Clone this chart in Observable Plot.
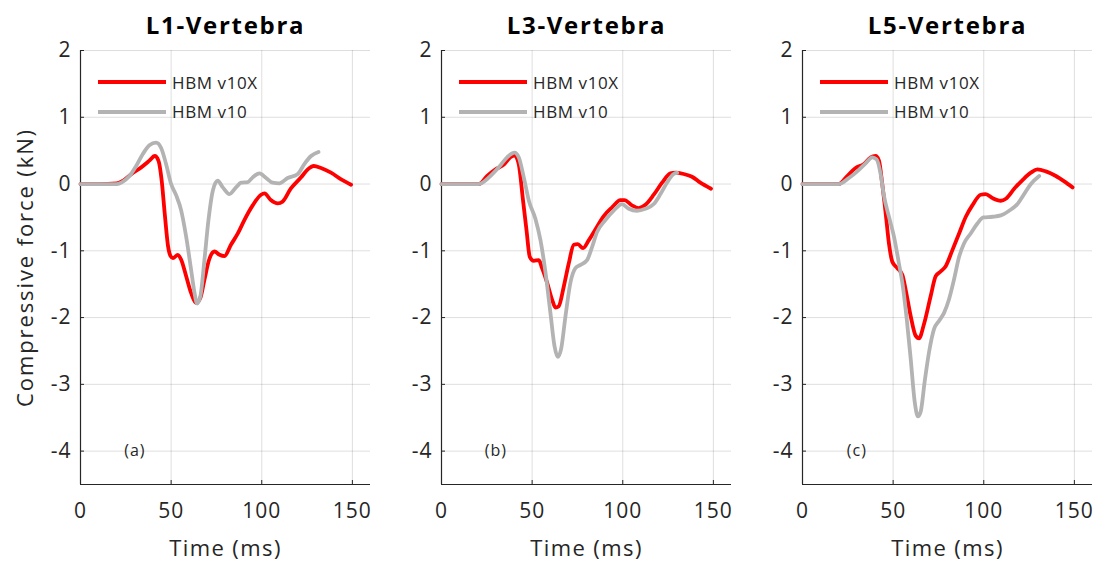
<!DOCTYPE html>
<html>
<head>
<meta charset="utf-8">
<script src="https://cdn.jsdelivr.net/npm/d3@7"></script>
<script src="https://cdn.jsdelivr.net/npm/@observablehq/plot@0.6"></script>
<style>
  body { margin: 0; background: #fff; }
  #chart { position: relative; width: 1098px; height: 562px; font-family: "Open Sans", sans-serif; }
  .panel { position: absolute; top: 0; width: 372px; height: 562px; }
  .panel svg { position: absolute; left: 0; top: 0; }
  .legend { position: absolute; left: 98px; top: 67.6px; }
  .legend .row { display: flex; align-items: center; height: 29.4px; }
  .legend .swatch { width: 68px; height: 4px; }
  .legend .name { margin-left: 6px; font-size: 17px; letter-spacing: 0.6px; color: #262626; white-space: nowrap; }
</style>
</head>
<body>
<div id="chart"></div>
<script>
// Panel titles and sub-figure letters
const panelTitles = ["L1-Vertebra", "L3-Vertebra", "L5-Vertebra"];
const panelLetters = ["(a)", "(b)", "(c)"];
const xLabel = "Time (ms)";
const yLabel = "Compressive force (kN)";

// Model versions and their line colours
const seriesNames = ["HBM v10X", "HBM v10"];
const seriesColors = ["#ff0000", "#b3b3b3"];

// Axis ticks
const xTicks = [0, 50, 100, 150];
const yTicks = [-4, -3, -2, -1, 0, 1, 2];

// L1 vertebra, HBM v10X: time (ms) and compressive force (kN)
const l1TimeV10X = [0, 10, 20, 24, 29, 33.5, 38, 41, 43, 44.8, 46.5, 48.3, 49.7, 51, 53.7, 55.5, 58.3, 61, 63.8, 66.2, 68.4, 71, 73.9, 76.7, 79.4, 83, 86.8, 90.4, 95, 99.6, 101.5, 105, 108.8, 111.6, 116, 121.7, 125.4, 128.7, 132.7, 138.2, 143.8, 149.3];
const l1ForceV10X = [0, 0, 0.01, 0.06, 0.17, 0.25, 0.35, 0.42, 0.35, 0.05, -0.45, -0.93, -1.08, -1.11, -1.06, -1.13, -1.38, -1.63, -1.78, -1.70, -1.43, -1.13, -1.01, -1.06, -1.08, -0.91, -0.74, -0.54, -0.32, -0.16, -0.14, -0.24, -0.29, -0.26, -0.07, 0.10, 0.22, 0.27, 0.24, 0.17, 0.07, -0.01];

// L1 vertebra, HBM v10
const l1TimeV10 = [0, 10, 20, 23, 27, 30.7, 34.4, 38, 41.7, 44.5, 47.2, 50, 52.8, 55.5, 58.3, 61, 62.9, 64.3, 66.2, 68.4, 70.6, 73, 75.7, 78.5, 82.2, 85.8, 88.6, 92.3, 95, 98.7, 102.4, 106, 109.7, 114.3, 119.9, 123.5, 127.2, 131.3];
const l1ForceV10 = [0, 0, 0, 0.03, 0.12, 0.27, 0.45, 0.58, 0.62, 0.54, 0.30, 0.0, -0.17, -0.39, -0.79, -1.28, -1.63, -1.79, -1.67, -1.13, -0.54, -0.10, 0.05, -0.05, -0.15, -0.05, 0.02, 0.03, 0.10, 0.16, 0.09, 0.02, 0.01, 0.09, 0.15, 0.30, 0.42, 0.48];

// L3 vertebra, HBM v10X
const l3TimeV10X = [0, 10, 20.6, 25.2, 29.8, 34.4, 38, 40.3, 42.6, 45, 46.9, 48.7, 50.9, 53.7, 55.5, 58.3, 61, 62.9, 64.7, 67.5, 70.2, 73, 75.2, 78.1, 81.3, 84.9, 89.5, 94.1, 98.7, 100.9, 105.1, 108.8, 112.5, 117.1, 121.7, 126.3, 129, 133.6, 138.2, 142.8, 148.7];
const l3ForceV10X = [0, 0, 0, 0.12, 0.22, 0.29, 0.40, 0.43, 0.30, -0.25, -0.69, -1.09, -1.15, -1.14, -1.26, -1.48, -1.73, -1.85, -1.83, -1.53, -1.19, -0.91, -0.90, -0.96, -0.84, -0.68, -0.48, -0.35, -0.24, -0.24, -0.32, -0.36, -0.31, -0.16, 0.02, 0.16, 0.17, 0.15, 0.11, 0.02, -0.07];

// L3 vertebra, HBM v10
const l3TimeV10 = [0, 10, 20.6, 27, 31.6, 36.2, 40.3, 42.6, 45.4, 48.2, 51.8, 54.6, 57.3, 60.1, 62.3, 64.2, 66, 68.4, 71.1, 73.9, 76.7, 80.3, 83.1, 85.8, 90.4, 95, 99.6, 103.3, 107.9, 112.5, 117.1, 120.8, 124.4, 128.1, 130];
const l3ForceV10 = [0, 0, 0, 0.12, 0.25, 0.40, 0.47, 0.40, 0.10, -0.25, -0.52, -0.84, -1.31, -1.93, -2.42, -2.59, -2.47, -1.98, -1.48, -1.26, -1.21, -1.14, -0.94, -0.72, -0.54, -0.40, -0.30, -0.37, -0.40, -0.37, -0.30, -0.15, 0.02, 0.15, 0.17];

// L5 vertebra, HBM v10X
const l5TimeV10X = [0, 10, 20, 24.7, 29.3, 33.9, 37.6, 40.3, 42.2, 44, 45.9, 47.7, 49.5, 52.3, 55.1, 56.9, 59.7, 62.4, 64.3, 67, 70.7, 73.5, 76.2, 79, 82.7, 86.4, 90.1, 93.7, 98.3, 101.1, 104.8, 109.4, 112.2, 116.8, 121.4, 126, 129.6, 134.3, 139.8, 144.4, 149];
const l5ForceV10X = [0, 0, 0, 0.12, 0.24, 0.30, 0.40, 0.42, 0.35, 0.0, -0.44, -0.89, -1.16, -1.26, -1.36, -1.58, -1.98, -2.27, -2.31, -2.10, -1.68, -1.38, -1.31, -1.23, -0.99, -0.74, -0.49, -0.32, -0.16, -0.15, -0.21, -0.25, -0.22, -0.07, 0.06, 0.17, 0.22, 0.19, 0.12, 0.04, -0.05];

// L5 vertebra, HBM v10
const l5TimeV10 = [0, 10, 20, 25.6, 30.2, 34.8, 38.5, 40.9, 43.1, 44.9, 47.7, 50.5, 53.2, 55.1, 57.5, 59.7, 61.9, 63.7, 65.2, 67.4, 69.8, 72.6, 75.3, 78.1, 80.8, 83.6, 86.4, 89.1, 92.8, 96.5, 99.8, 104.8, 109.4, 114, 118.6, 122.3, 126, 130.6];
const l5ForceV10 = [0, 0, 0, 0.09, 0.19, 0.31, 0.40, 0.37, 0.15, -0.17, -0.49, -0.79, -1.19, -1.48, -2.02, -2.62, -3.26, -3.48, -3.41, -2.96, -2.52, -2.17, -2.05, -1.93, -1.73, -1.43, -1.09, -0.89, -0.74, -0.59, -0.50, -0.49, -0.47, -0.40, -0.30, -0.15, 0.0, 0.12];

const toRows = (time, force) => time.map((t, i) => ({t, f: force[i]}));

const panels = [
  [toRows(l1TimeV10X, l1ForceV10X), toRows(l1TimeV10, l1ForceV10)],
  [toRows(l3TimeV10X, l3ForceV10X), toRows(l3TimeV10, l3ForceV10)],
  [toRows(l5TimeV10X, l5ForceV10X), toRows(l5TimeV10, l5ForceV10)]
];

const ink = "#262626";
const chart = document.getElementById("chart");

// Letter spacing (px) for each kind of text
const letterSpacing = t =>
  panelTitles.includes(t) ? 1.7 :
  t === xLabel ? 1.4 :
  t === yLabel ? 1.9 : 1;

panels.forEach((series, p) => {
  const wrap = document.createElement("div");
  wrap.className = "panel";
  wrap.style.left = (p * 361) + "px";

  const svg = Plot.plot({
    width: 372,
    height: 562,
    marginLeft: 80,
    marginRight: 2,
    marginTop: 50,
    marginBottom: 78,
    style: {background: "transparent", fontFamily: "Open Sans", color: ink, overflow: "visible"},
    x: {domain: [0, 160]},
    y: {domain: [-4.5, 2]},
    marks: [
      Plot.gridX(xTicks, {stroke: "#000", strokeOpacity: 0.13}),
      Plot.gridY(yTicks, {stroke: "#000", strokeOpacity: 0.13}),
      Plot.ruleX([0], {stroke: ink, strokeWidth: 1.2}),
      Plot.ruleY([-4.5], {stroke: ink, strokeWidth: 1.2}),
      Plot.tickX(xTicks, {x: d => d, insetTop: 430, stroke: ink}),
      Plot.tickY(yTicks, {y: d => d, insetRight: 286, stroke: ink}),
      Plot.axisX(xTicks, {tickSize: 0, tickPadding: 19, fontSize: 21, label: null, tickFormat: d => String(d)}),
      Plot.axisY(yTicks, {tickSize: 0, tickPadding: 9, fontSize: 21, label: null, tickFormat: d => String(d)}),
      Plot.line(series[0], {x: "t", y: "f", stroke: seriesColors[0], strokeWidth: 3.8, curve: "monotone-x"}),
      Plot.line(series[1], {x: "t", y: "f", stroke: seriesColors[1], strokeWidth: 3.8, curve: "monotone-x"}),
      Plot.text([panelLetters[p]], {x: 30, y: -4, fontSize: 16, fill: ink}),
      Plot.text([panelTitles[p]], {frameAnchor: "top", lineAnchor: "middle", dy: -24, fontSize: 24, fontWeight: "bold", fill: "#000"}),
      Plot.text([xLabel], {frameAnchor: "bottom", lineAnchor: "middle", dy: 64, fontSize: 22, fill: ink}),
      p === 0 ? Plot.text([yLabel], {frameAnchor: "left", textAnchor: "middle", lineAnchor: "middle", rotate: -90, dx: -55, fontSize: 22, fill: ink}) : null
    ]
  });

  d3.select(svg).selectAll("text").each(function() {
    this.setAttribute("letter-spacing", letterSpacing(this.textContent) + "px");
  });

  wrap.appendChild(svg);

  // Line legend in the upper-left corner of each panel
  const legend = document.createElement("div");
  legend.className = "legend";
  seriesNames.forEach((name, i) => {
    const row = document.createElement("div");
    row.className = "row";
    const sw = document.createElement("span");
    sw.className = "swatch";
    sw.style.background = seriesColors[i];
    const label = document.createElement("span");
    label.className = "name";
    label.textContent = name;
    row.appendChild(sw);
    row.appendChild(label);
    legend.appendChild(row);
  });
  wrap.appendChild(legend);

  chart.appendChild(wrap);
});
</script>
</body>
</html>
